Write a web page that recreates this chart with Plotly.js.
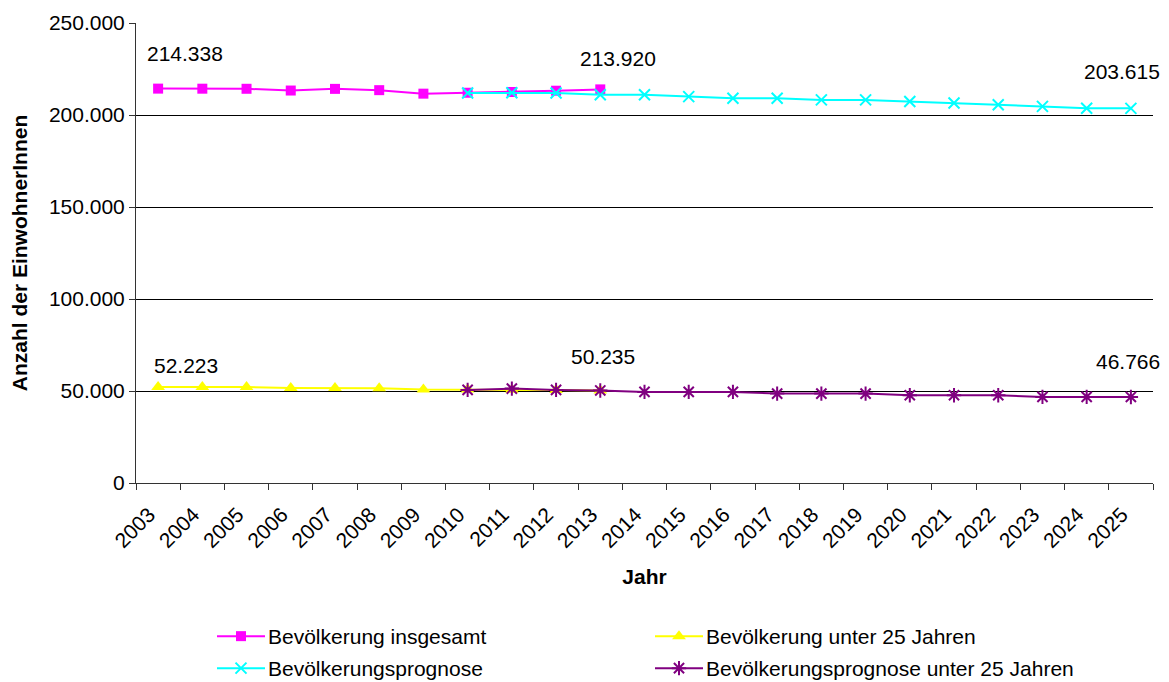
<!DOCTYPE html>
<html>
<head>
<meta charset="utf-8">
<script src="https://cdn.plot.ly/plotly-3.0.1.min.js"></script>
<style>html,body{margin:0;padding:0;background:#fff;}#chart{width:1169px;height:682px;}</style>
</head>
<body>
<div id="chart"></div>
<script>
// ---- data ----
const years = ['2003','2004','2005','2006','2007','2008','2009','2010','2011','2012','2013','2014','2015','2016','2017','2018','2019','2020','2021','2022','2023','2024','2025'];
const actualYears = years.slice(0, 11);    // 2003-2013
const forecastYears = years.slice(7);      // 2010-2025

const totalActual = [214338, 214300, 214250, 213300, 214200, 213500, 211600, 212100, 212500, 213200, 213920];
const under25Actual = [52223, 52200, 52150, 51650, 51600, 51550, 50750, 50800, 50700, 50500, 50235];
const totalForecast = [212000, 212100, 212000, 211000, 211000, 210000, 209100, 209100, 208200, 208200, 207300, 206500, 205600, 204700, 203700, 203615];
const under25Forecast = [50600, 51300, 50600, 50300, 49500, 49500, 49500, 48600, 48600, 48600, 47700, 47700, 47700, 46800, 46800, 46766];

const seriesNames = ['Bevölkerung insgesamt', 'Bevölkerung unter 25 Jahren', 'Bevölkerungsprognose', 'Bevölkerungsprognose unter 25 Jahren'];
const yTicks = [0, 50000, 100000, 150000, 200000, 250000];

function fmt(v){ return String(v).replace(/\B(?=(\d{3})+(?!\d))/g, '.'); }

const FONT = 'Liberation Sans, Arial, sans-serif';
const FS = 21;

const traces = [
  {x: actualYears, y: totalActual, name: seriesNames[0], legend: 'legend', type: 'scatter', mode: 'lines+markers',
   line: {color: '#FF00FF', width: 2}, marker: {symbol: 'square', size: 10, color: '#FF00FF'}},
  {x: actualYears, y: under25Actual, name: seriesNames[1], legend: 'legend', type: 'scatter', mode: 'lines+markers',
   line: {color: '#FFFF00', width: 2}, marker: {symbol: 'triangle-up', size: 12, color: '#FFFF00'}},
  {x: forecastYears, y: totalForecast, name: seriesNames[2], legend: 'legend2', type: 'scatter', mode: 'lines+markers',
   line: {color: '#00FFFF', width: 2}, marker: {symbol: 'x-thin-open', size: 11, color: '#00FFFF', line: {color: '#00FFFF', width: 2}}},
  {x: forecastYears, y: under25Forecast, name: seriesNames[3], legend: 'legend2', type: 'scatter', mode: 'lines+markers',
   line: {color: '#800080', width: 2}, marker: {symbol: 'asterisk-open', size: 12, color: '#800080', line: {color: '#800080', width: 2}}}
];

function lab(cat, yv, dx, dy){
  return {x: years.indexOf(cat), y: yv, xref: 'x', yref: 'y', text: fmt(yv), showarrow: false,
          xshift: dx, yshift: dy, font: {family: FONT, size: FS, color: '#000'}};
}
const annotations = [
  lab(actualYears[0], totalActual[0], 27, 35),
  lab(actualYears[10], totalActual[10], 18, 31),
  lab(forecastYears[15], totalForecast[15], -9, 37),
  lab(actualYears[0], under25Actual[0], 28, 21),
  lab(actualYears[10], under25Actual[10], 3, 34),
  lab(forecastYears[15], under25Forecast[15], -3, 35)
];

function legendCfg(topPx){
  return {
    orientation: 'h', x: (212 - 136) / 1017, xref: 'paper', xanchor: 'left',
    yref: 'container', y: 1 - topPx / 682, yanchor: 'top',
    itemwidth: 46, entrywidth: 377, entrywidthmode: 'pixels', traceorder: 'normal',
    font: {family: FONT, size: FS, color: '#000'}, bgcolor: 'rgba(0,0,0,0)', borderwidth: 0
  };
}

const layout = {
  width: 1169, height: 682,
  margin: {l: 136, r: 16, t: 23, b: 199, autoexpand: false},
  paper_bgcolor: '#fff', plot_bgcolor: '#fff',
  separators: ',.',
  font: {family: FONT, size: FS, color: '#000'},
  showlegend: true,
  xaxis: {
    type: 'category', categoryorder: 'array', categoryarray: years,
    range: [-0.5, years.length - 0.5], automargin: false,
    tickson: 'boundaries', ticks: 'outside', ticklen: 6, tickcolor: '#333',
    showline: true, linecolor: '#333', linewidth: 1,
    showgrid: false, zeroline: false,
    tickangle: -45, ticklabelstandoff: 10, ticklabelshift: -9,
    tickfont: {family: FONT, size: FS, color: '#000'},
    title: {text: '<b>Jahr</b>', font: {family: FONT, size: FS, color: '#000'}, standoff: 18}
  },
  yaxis: {
    range: [0, 250000], tickvals: yTicks, ticktext: yTicks.map(fmt), automargin: false,
    ticks: 'outside', ticklen: 6, tickcolor: '#333',
    showline: true, linecolor: '#333', linewidth: 1,
    showgrid: true, gridcolor: '#000', gridwidth: 1, zeroline: false,
    tickfont: {family: FONT, size: FS, color: '#000'},
    title: {text: '<b>Anzahl der EinwohnerInnen</b>', font: {family: FONT, size: FS, color: '#000'}, standoff: 15}
  },
  legend: legendCfg(616),
  legend2: legendCfg(648),
  annotations: annotations
};

Plotly.newPlot('chart', traces, layout, {displayModeBar: false, staticPlot: true}).then(function(gd){
  // lengthen legend sample lines and centre their markers (Excel-style legend keys)
  gd.querySelectorAll('.legendlines path').forEach(function(p){ p.setAttribute('d', 'M5,0h48'); });
  gd.querySelectorAll('.legendpoints path.scatterpts').forEach(function(p){
    p.setAttribute('transform', 'translate(29,0)');
  });
});
</script>
</body>
</html>
